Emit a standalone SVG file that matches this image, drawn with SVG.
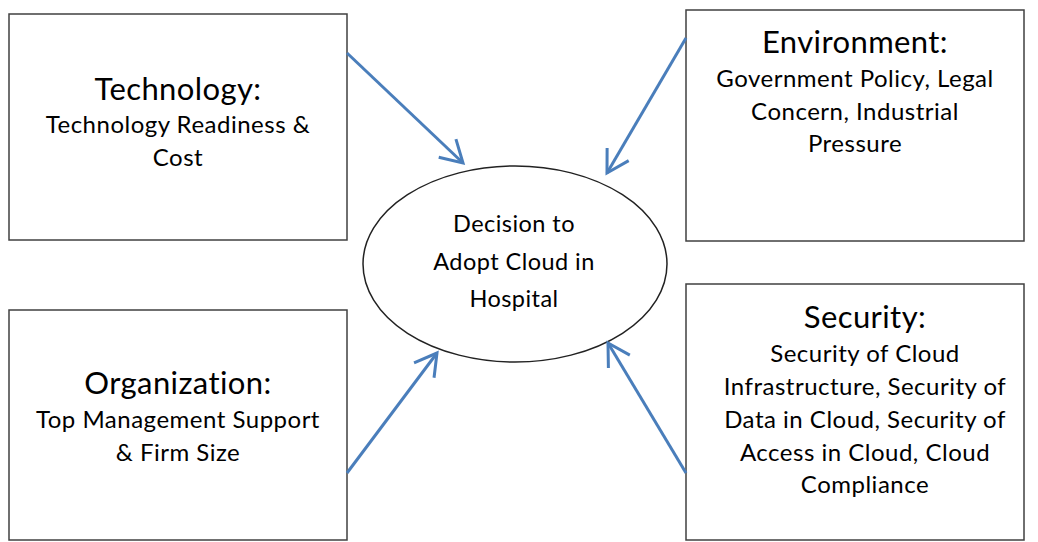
<svg xmlns="http://www.w3.org/2000/svg" width="1038" height="542" viewBox="0 0 1038 542">
<defs>
<style>
.box{fill:#fff;stroke:#404040;stroke-width:1.5}
.ell{fill:#fff;stroke:#222;stroke-width:1.5}
.title{font-family:Lato,"Liberation Sans",sans-serif;font-size:31px;letter-spacing:0.4px;fill:#000;text-anchor:middle}
.sub{font-family:Lato,"Liberation Sans",sans-serif;font-size:24px;letter-spacing:0.5px;fill:#000;text-anchor:middle}
.ctr{font-family:Lato,"Liberation Sans",sans-serif;font-size:23.5px;letter-spacing:0.45px;fill:#000;text-anchor:middle}
.conn{fill:none;stroke:#4a7ebb;stroke-width:3;marker-end:url(#arr)}
</style>
<marker id="arr" markerUnits="userSpaceOnUse" viewBox="-26 -15 30 30" refX="0" refY="0" markerWidth="30" markerHeight="30" orient="auto">
<path d="M-21.6,-12.5 L0,0 L-21.6,12.5" fill="none" stroke="#4a7ebb" stroke-width="3"/>
</marker>
</defs>
<rect width="1038" height="542" fill="#fff"/>
<g id="technology">
<rect class="box" x="9" y="14" width="338" height="226"/>
<text class="title" x="178" y="100">Technology:</text>
<text class="sub" x="178" y="133">Technology Readiness &amp;</text>
<text class="sub" x="178" y="166">Cost</text>
</g>
<g id="environment">
<rect class="box" x="686" y="10" width="338" height="231"/>
<text class="title" x="855" y="53">Environment:</text>
<text class="sub" x="855" y="87">Government Policy, Legal</text>
<text class="sub" x="855" y="120">Concern, Industrial</text>
<text class="sub" x="855" y="152">Pressure</text>
</g>
<g id="organization">
<rect class="box" x="9" y="310" width="338" height="230"/>
<text class="title" x="178" y="394">Organization:</text>
<text class="sub" x="178" y="428">Top Management Support</text>
<text class="sub" x="178" y="461">&amp; Firm Size</text>
</g>
<g id="security">
<rect class="box" x="686" y="284" width="338" height="256"/>
<text class="title" x="865" y="328">Security:</text>
<text class="sub" x="865" y="362">Security of Cloud</text>
<text class="sub" x="865" y="395">Infrastructure, Security of</text>
<text class="sub" x="865" y="428">Data in Cloud, Security of</text>
<text class="sub" x="865" y="461">Access in Cloud, Cloud</text>
<text class="sub" x="865" y="493">Compliance</text>
</g>
<g id="decision">
<ellipse class="ell" cx="515" cy="264" rx="152" ry="98"/>
<text class="ctr" x="514" y="232">Decision to</text>
<text class="ctr" x="514" y="270">Adopt Cloud in</text>
<text class="ctr" x="514" y="307">Hospital</text>
</g>
<g id="connectors">
<path class="conn" d="M347,53 L463,163"/>
<path class="conn" d="M686,38 L607,173"/>
<path class="conn" d="M347,473 L437,353"/>
<path class="conn" d="M686,473 L608,343"/>
</g>
</svg>
